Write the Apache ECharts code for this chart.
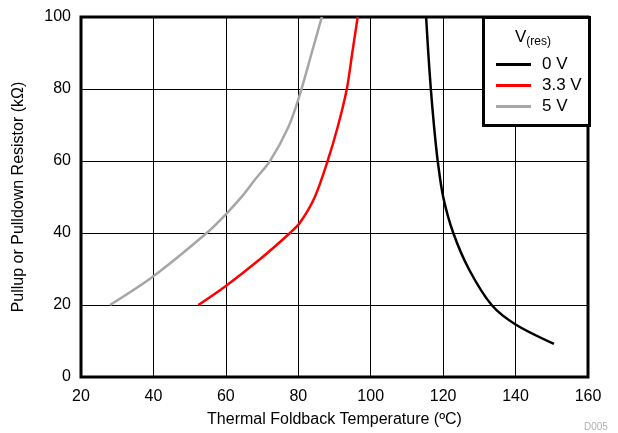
<!DOCTYPE html>
<html>
<head>
<meta charset="utf-8">
<script src="https://cdn.jsdelivr.net/npm/echarts@6/dist/echarts.min.js"></script>
<style>
  html, body { margin: 0; padding: 0; background: #fff; }
  #chart { width: 618px; height: 433px; }
</style>
</head>
<body>
<div id="chart"></div>
<script>
// temperature (ºC) / resistance (kΩ)
var temp0V = [115.3, 115.9, 116.6, 117.5, 118.5, 120, 122.8, 127.2, 133.4, 140, 150.6];
var res0V = [100, 90, 80, 69.5, 60, 50.1, 40, 29.8, 20, 14.6, 9.2];

var temp33V = [52.4, 60, 69.4, 77.7, 80.5, 84.6, 88.1, 90.9, 93.4, 94.9, 96.4];
var res33V = [20, 25.3, 32.7, 40, 42.9, 50.1, 60, 69.5, 80, 90, 100];

var temp5V = [28, 40, 54.7, 60, 64.4, 68, 72.2, 77.3, 80.3, 83.7, 86.5];
var res5V = [20, 28, 40, 45.2, 50.1, 54.8, 60, 69.5, 78, 90, 100];

var seriesNames = ['0 V', '3.3 V', '5 V'];
var seriesColors = ['#000000', '#ff0000', '#a6a6a6'];

function pairs(xs, ys) {
  return xs.map(function (x, i) { return [x, ys[i]]; });
}

var font = 'Liberation Sans, Arial, sans-serif';
var chart = echarts.init(document.getElementById('chart'));

var option = {
  animation: false,
  textStyle: { fontFamily: font },
  grid: {
    left: 81, top: 17, width: 507, height: 361,
    show: true, borderColor: '#000', borderWidth: 3, backgroundColor: 'transparent'
  },
  xAxis: {
    type: 'value', min: 20, max: 160, interval: 20,
    name: 'Thermal Foldback Temperature (ºC)',
    nameLocation: 'middle', nameGap: 35,
    nameTextStyle: { fontSize: 16, color: '#000', fontFamily: font },
    axisLine: { show: false },
    axisTick: { show: false },
    axisLabel: { fontSize: 16, color: '#000', margin: 12, fontFamily: font },
    splitLine: { lineStyle: { color: '#000', width: 1 } }
  },
  yAxis: {
    type: 'value', min: 0, max: 100, interval: 20,
    name: 'Pullup or Pulldown Resistor (kΩ)',
    nameLocation: 'middle', nameGap: 54,
    nameTextStyle: { fontSize: 16, color: '#000', fontFamily: font },
    axisLine: { show: false },
    axisTick: { show: false },
    axisLabel: { fontSize: 16, color: '#000', margin: 10, fontFamily: font },
    splitLine: { lineStyle: { color: '#000', width: 1 } }
  },
  legend: {
    orient: 'vertical',
    left: 491, top: 51, z: 20,
    itemWidth: 35, itemHeight: 3, itemGap: 4,
    icon: 'rect',
    textStyle: { fontSize: 17, color: '#000', fontFamily: font, padding: [0, 0, 0, 6] },
    data: seriesNames
  },
  graphic: [
    {
      type: 'rect', left: 482, top: 16, z: 10,
      shape: { width: 106, height: 108 },
      style: { fill: '#fff', stroke: '#000', lineWidth: 3 }
    },
    {
      type: 'text', left: 515, top: 29, z: 11,
      style: {
        text: '{v|V}{s|(res)}',
        rich: {
          v: { fontSize: 17, fontFamily: font, fill: '#000' },
          s: { fontSize: 12, fontFamily: font, fill: '#000', verticalAlign: 'bottom', padding: [8, 0, 0, 0] }
        }
      }
    },
    {
      type: 'text', left: 584, top: 422,
      style: { text: 'D005', fontSize: 10, fontFamily: font, fill: '#b0b0b0' }
    }
  ],
  series: [
    { name: seriesNames[0], data: pairs(temp0V, res0V) },
    { name: seriesNames[1], data: pairs(temp33V, res33V) },
    { name: seriesNames[2], data: pairs(temp5V, res5V) }
  ].map(function (s, i) {
    return {
      name: s.name, type: 'line', data: s.data, smooth: 0.3,
      showSymbol: false, symbol: 'none',
      lineStyle: { color: seriesColors[i], width: 2.5 },
      itemStyle: { color: seriesColors[i] },
      z: 5
    };
  })
};

chart.setOption(option);
</script>
</body>
</html>
